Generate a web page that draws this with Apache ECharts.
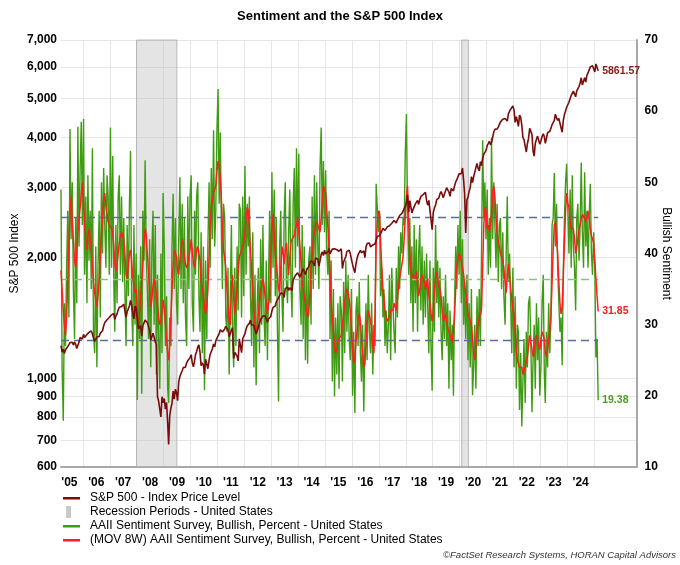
<!DOCTYPE html>
<html>
<head>
<meta charset="utf-8">
<script src="https://cdn.jsdelivr.net/npm/echarts@6/dist/echarts.min.js"></script>
<style>
html,body{margin:0;padding:0;background:#fff;}
#chart{width:680px;height:565px;}
</style>
</head>
<body>
<div id="chart"></div>
<script>
// Semi-monthly observations (10th and 25th of each month), Mar 2005 - Feb 2025
const firstMonth = [2005, 2];   // March 2005 (0-based month)
const lastMonth = [2025, 1];    // February 2025

// S&P 500 index level
const sp500 = [
1207,1162, 1181,1152, 1178,1190, 1200,1191, 1227,1234, 1230,1210, 1231,1215, 1187,1199, 1231,1265, 1259,1252,
1287,1264, 1266,1287, 1281,1302, 1295,1312, 1291,1260, 1236,1250, 1267,1260, 1272,1296, 1299,1314, 1350,1377, 1380,1400, 1413,1418,
1423,1440, 1438,1451, 1402,1430, 1448,1480, 1505,1515, 1510,1498, 1531,1518, 1420,1464, 1474,1517, 1565,1520, 1453,1407, 1515,1497,
1410,1330, 1331,1353, 1273,1352, 1360,1397, 1389,1375, 1361,1321, 1245,1257, 1296,1266, 1232,1213, 899,877, 873,800, 899,868,
890,837, 870,773, 683,806, 842,866, 929,887, 939,920, 879,979, 1010,1028, 1044,1063, 1071,1066, 1093,1106, 1104,1126,
1145,1092, 1068,1105, 1146,1166, 1197,1212, 1160,1074, 1092,1076, 1023,1115, 1121,1056, 1110,1148, 1165,1185, 1218,1198, 1240,1257,
1269,1292, 1321,1320, 1304,1314, 1328,1348, 1347,1320, 1270,1268, 1317,1337, 1120,1160, 1154,1136, 1105,1254, 1240,1159, 1255,1265,
1292,1326, 1352,1367, 1371,1397, 1358,1371, 1358,1318, 1290,1313, 1342,1338, 1402,1411, 1430,1441, 1432,1409, 1380,1406, 1418,1426,
1472,1503, 1518,1515, 1552,1551, 1588,1585, 1633,1650, 1626,1592, 1675,1690, 1691,1656, 1683,1692, 1656,1759, 1770,1807, 1802,1834,
1842,1790, 1780,1847, 1878,1857, 1816,1863, 1878,1900, 1950,1960, 1964,1978, 1909,1997, 1995,1982, 1906,1964, 2039,2068, 2026,2088,
2044,2051, 2068,2110, 2044,2061, 2102,2117, 2105,2126, 2094,2102, 2076,2079, 2104,1880, 1952,1931, 2014,2075, 2081,2089, 2047,2061,
1922,1877, 1835,1929, 1989,2037, 2047,2088, 2058,2048, 2080,2001, 2129,2169, 2182,2176, 2128,2146, 2153,2143, 2167,2213, 2259,2264,
2269,2298, 2309,2367, 2372,2341, 2356,2389, 2396,2405, 2432,2439, 2427,2477, 2474,2443, 2488,2497, 2550,2557, 2582,2602, 2652,2683,
2748,2872, 2600,2779, 2786,2588, 2642,2640, 2723,2721, 2782,2718, 2794,2846, 2853,2875, 2877,2915, 2785,2706, 2781,2632, 2637,2351,
2597,2664, 2710,2793, 2783,2818, 2888,2926, 2881,2826, 2886,2913, 2993,3003, 2919,2847, 2979,2984, 2938,3023, 3093,3133, 3132,3240,
3265,3243, 3352,3128, 2882,2305, 2790,2837, 2930,2991, 3190,3083, 3185,3215, 3360,3443, 3340,3298, 3477,3400, 3545,3630, 3668,3703,
3810,3855, 3911,3829, 3875,3910, 4128,4187, 4188,4197, 4247,4281, 4370,4412, 4436,4470, 4458,4455, 4391,4575, 4646,4701, 4712,4791,
4670,4356, 4504,4385, 4260,4543, 4488,4287, 4001,3941, 3901,3675, 3854,3967, 4210,4199, 4067,3693, 3588,3859, 3956,4026, 3934,3845,
3919,4016, 4081,4012, 3861,3971, 4105,4071, 4138,4151, 4299,4348, 4409,4567, 4464,4406, 4457,4337, 4327,4117, 4415,4559, 4604,4754,
4783,4894, 4997,5088, 5117,5218, 5160,5048, 5222,5268, 5361,5469, 5633,5399, 5344,5634, 5495,5722, 5792,5809, 5996,5987, 6034,6040,
5827,6101, 6069,5861.57
];

// AAII Sentiment Survey, Bullish, %
const bullish = [
49,24, 16.5,33, 27,38, 46,31, 57.5,42, 50,35, 28,45, 33,57.8, 41,52, 58.5,44,
58.9,37, 48,33, 51,39, 46,35, 54.8,29, 26,41, 24,38, 46,31, 50,40, 52,44, 38,51, 48,37,
57.7,38, 53.7,36, 29,44, 33,48, 51,37, 48,36, 45,35, 27,44, 34,47, 54.4,33, 27,44, 30,40,
19.4,37, 28,41, 20.3,46, 39,53.1, 40,35, 28,42, 24,40, 46,30, 44,23, 37,28, 21,40, 26,48.5,
41,27, 34,21, 19,31, 27,41, 48.4,35, 45,33, 30,42, 50.7,35, 47,33, 45,31, 27,48, 35,48,
51,33, 29,46, 37,48, 50,34, 29,43, 26,41, 20.8,39, 28,41, 50,38, 52,42, 57.3,41, 46,57,
63.1,47, 57,42, 35,47, 45,31, 29,38, 23,34, 44,29, 24,38, 27,41, 32,47, 46,31, 48,34,
52.3,37, 47,41, 48,34, 27,43, 24,37, 21.5,33, 38,26, 42,30, 44,31, 27,39, 25,36, 46,33,
51.4,38, 49,34, 45,30, 19.2,41, 46,34, 29,45, 50,36, 33,43, 49,36, 31,47, 52,38, 54.8,41,
54,35, 30,44, 28,41, 25,38, 24.5,39, 41,30, 48,35, 51,37, 50,41, 35,52, 57.7,44, 53,43,
51.7,40, 37,46, 28,39, 22,35, 19.9,31, 23,33, 21,34, 32,22, 36,26, 39,29, 37,28, 25,35,
20,29, 17.6,32, 34,27, 36,26, 22,30, 17.8,28, 33,25, 37,29, 26,33, 23,30, 27,49.8, 46.5,43,
46,34, 38,31, 35,27, 32,26, 30,37, 25,38, 33,29, 26,38, 31,41, 35,43, 40,45, 44,54,
59.6,46, 37,45, 33,41, 29,44, 33,42, 29,40, 44,32, 41,30, 39,31, 40,33, 26,39, 27,20.7,
38,29, 44,33, 39,31, 38,29, 25,34, 28,37, 27,33, 21,32, 25,30, 20,33, 41,35, 44,37,
46,33, 42,30, 36,28, 37,25, 33,24, 35,20.1, 24,30, 21,34, 27,35, 27,40, 55.9,45, 50,42,
49,37, 45,38, 56.3,42, 50,44, 38,47, 36,44, 45,35, 43,34, 30,40, 48,36, 40,33, 26,38,
24,34, 21,30, 29,18, 26,15.7, 22,28, 19,29, 24,33, 34,28, 17.7,25, 30,21, 33,25, 31,20,
24,33, 37,23, 19,29, 24,33, 26,31, 44,45, 51.3,41, 47,38, 33,29, 31,24.3, 38,45, 50,52.6,
52.8,40, 49,38, 51,41, 38,32, 45,47, 39,44, 52.8,43, 38,51.4, 41,46, 38,45, 49.8,40, 37,43,
38,25.4, 28,19.38
];

// (MOV 8W) AAII Sentiment Survey, Bullish, %
const bullishMA = [
37.6,35, 32,30, 28.5,31, 36,41, 46,48, 44,42, 39,38, 40,43, 45,46.5, 48.5,50,
47,44, 42,40.5, 42.5,43.5, 42,40.5, 38.5,36, 34.5,33.5, 32.5,34, 36.5,39.5, 42.5,45.5, 47.5,48.5, 46.5,45.5, 44.5,44,
44,43.5, 43,41, 38.5,37.5, 38.5,40, 41.5,42.5, 43,42.5, 42,40, 37,36.5, 38.5,40, 40.5,39, 36.5,35.5, 34.5,35,
31,29.5, 31.5,34, 36,38.5, 41.5,43.5, 42.5,40, 37.5,34.5, 32.5,33.5, 35.5,36.5, 35.5,34.5, 32.5,31, 30,30.5, 32,33.5,
32,30, 28,26, 25,27, 31,35, 38.5,40.5, 40.5,39.5, 37.5,37, 39,40.5, 42,41.5, 39.5,38.5, 38,38.5, 39.5,40.5,
42,40.5, 38.5,38, 39,40.5, 41,41, 39,36, 35,34, 32.5,31.5, 32.5,35, 39.5,44, 46.5,47.5, 48.5,48.5, 49.5,51.5,
53,52.5, 50.5,47.5, 43.5,40.5, 39.5,38, 35,32.5, 30.5,30, 35,37, 33.5,31.5, 33,35, 37.5,39.5, 40,40, 41,41.5,
43,45, 46.5,46, 43.5,40.5, 37.5,34.5, 32,30, 29,29.5, 31.5,33.5, 34.5,35.5, 36.5,35.5, 34,33, 31.5,31.5, 34,39,
43.5,45.5, 42.5,40, 38.5,37, 35,34.5, 38,41, 40,38.5, 40.5,41.5, 39,37, 39.5,41.5, 42,42, 42.5,43.5, 44,45,
43,41, 38.5,36, 35,34, 33,32, 31,31.5, 34.5,38, 40,42, 43,44, 44.5,44.5, 43.5,43, 45,47.5, 49.5,49,
48.5,46, 43.5,40.5, 37,33, 31,29, 27,26, 26.5,27.5, 28,28, 28.5,30, 31.5,33, 34.5,35, 34.5,33.5, 32,29.5,
26.5,24.5, 25.5,27.5, 29,31, 31.5,30.5, 28,26, 24,24.5, 27.5,30.5, 32,32, 30.5,29.5, 27,26, 31.5,41, 44.5,46,
45.5,41.5, 38,35, 34,32, 31,30.5, 30.5,31, 32,32, 32,33, 33,32, 33.5,35.5, 36.5,37.5, 38.5,39.5, 42,45,
48,49.5, 44,40, 38,36.5, 37,37, 36.5,37.5, 35.5,34, 35,36.5, 37,37, 36,35, 35.5,36.5, 34,33, 31.5,30.5,
32,35, 36.5,37.5, 36.5,35.5, 35,34, 32,30.5, 30.5,31.5, 30.5,29.5, 29,28.5, 28,27.5, 29,31.5, 35,38.5, 39,40,
39.5,39, 38,37, 35.5,34.5, 33,31.5, 31,31, 30,28, 26,25, 27,29.5, 30,31, 31,32, 38,44, 46.5,46,
43.5,44, 43,43, 45.5,48.5, 49.5,48, 45,43, 41.5,41, 40,39.5, 39,38, 36,34.5, 37,38.5, 37,35, 33.5,32,
31.5,29, 26.5,25, 24.5,24, 24,24, 23,23, 24,25, 25.5,27, 28.5,28.5, 26.5,25.5, 26.5,28, 28.5,28, 27,26.5,
28,29, 28.5,28, 26,25.5, 26.5,28, 29,31, 36,40.5, 44,44.5, 42,40, 36,33, 31.5,32.5, 37,41.5, 46,48.5,
47,46.5, 44.5,43.5, 43.5,43.5, 42,40, 40,42, 43.5,44, 45,45.5, 45.5,45, 44.5,45, 46,45, 43.5,42.5, 42,41.5,
39,36.5, 34,31.85
];

// Reference lines on the sentiment axis: +1 std, average, -1 std
const sentimentBands = [45.05, 36.4, 27.75];
const sentimentBandColors = ['#5A6F92', '#86C57A', '#5A6F92'];

// Recession periods (United States)
const recessions = [['2007-12-31', '2009-06-30'], ['2020-01-31', '2020-04-30']];

// Axis ticks
const spTicks = [600, 700, 800, 900, 1000, 2000, 3000, 4000, 5000, 6000, 7000];
const spRange = [600, 7000];
const bullRange = [10, 70];
const yearLabels = ["'05","'06","'07","'08","'09","'10","'11","'12","'13","'14","'15","'16","'17","'18","'19","'20","'21","'22","'23","'24"];

// ---- build dates (categories) ----
function parseDay(s) { const p = s.split('-'); return new Date(+p[0], +p[1] - 1, +p[2]).getTime(); }
const dates = [];
for (let y = firstMonth[0]; y <= lastMonth[0]; y++) {
  for (let m = 0; m < 12; m++) {
    if (y === firstMonth[0] && m < firstMonth[1]) continue;
    if (y === lastMonth[0] && m > lastMonth[1]) break;
    dates.push(new Date(y, m, 10).getTime(), new Date(y, m, 25).getTime());
  }
}
const n = Math.min(dates.length, sp500.length, bullish.length, bullishMA.length);
const spData = [], bullData = [], maData = [];
for (let i = 0; i < n; i++) {
  spData.push([dates[i], Math.log10(sp500[i])]);
  bullData.push([dates[i], bullish[i]]);
  maData.push([dates[i], bullishMA[i]]);
}
const tStart = dates[0], tEnd = dates[n - 1];
const yearStarts = [], yearMids = [];
for (let i = 0; i < yearLabels.length; i++) {
  yearStarts.push(new Date(2006 + i, 0, 1).getTime());
  yearMids.push(new Date(2005 + i, 6, 2).getTime());
}
const axisMax = new Date(2026, 6, 30).getTime();

const FONT = 'Liberation Sans, Arial, Helvetica, sans-serif';
const LINE_ICON = 'path://M0,5 H17 V7.5 H0 Z M22,0 L22,0.01 M22,12 L22,11.99 M0,0 L0,0.01 M0,12 L0,11.99';
const BAR_ICON = 'path://M3,0 H8 V12 H3 Z M0,0 L0,0.01 M22,0 L22,0.01 M22,12 L22,11.99 M0,12 L0,11.99';

const chart = echarts.init(document.getElementById('chart'), null, {renderer: 'canvas'});
chart.setOption({
  animation: false,
  backgroundColor: '#ffffff',
  textStyle: {fontFamily: FONT},
  title: [
    {text: 'Sentiment and the S&P 500 Index', left: 'center', top: 5,
     textStyle: {fontFamily: FONT, fontSize: 13, fontWeight: 'bold', color: '#000'}},
    {text: '\u00A9FactSet Research Systems, HORAN Capital Advisors', right: -1, bottom: 0,
     textStyle: {fontFamily: FONT, fontSize: 9.5, fontStyle: 'italic', fontWeight: 'normal', color: '#333'}}
  ],
  grid: {left: 61, right: 43.5, top: 40, bottom: 98, containLabel: false, outerBoundsMode: 'none'},
  legend: {
    orient: 'vertical', left: 58, top: 487, itemWidth: 22, itemHeight: 12, itemGap: 2,
    selectedMode: false,
    textStyle: {fontFamily: FONT, fontSize: 12, color: '#000'},
    data: [
      {name: 'S&P 500 - Index Price Level', icon: LINE_ICON},
      {name: 'Recession Periods - United States', icon: BAR_ICON},
      {name: 'AAII Sentiment Survey, Bullish, Percent - United States', icon: LINE_ICON},
      {name: '(MOV 8W) AAII Sentiment Survey, Bullish, Percent - United States', icon: LINE_ICON}
    ]
  },
  xAxis: {
    type: 'value', min: tStart, max: axisMax, scale: true,
    axisLine: {show: true, lineStyle: {color: '#A8A8A8', width: 2}},
    axisTick: {show: false, customValues: yearStarts},
    splitLine: {show: true, lineStyle: {color: '#E6E6E6', width: 1}},
    axisLabel: {
      customValues: yearMids, margin: 10, color: '#000', fontWeight: 'bold', fontSize: 12, fontFamily: FONT,
      formatter: function (v) { const y = new Date(v).getFullYear(); return yearLabels[y - 2005] || ''; }
    }
  },
  yAxis: [
    {
      type: 'value', min: Math.log10(spRange[0]), max: Math.log10(spRange[1]), position: 'left',
      name: 'S&P 500 Index', nameLocation: 'middle', nameGap: 40, nameRotate: 90, nameMoveOverlap: false,
      nameTextStyle: {fontFamily: FONT, fontSize: 12, color: '#000'},
      axisLine: {show: false}, axisTick: {show: false, customValues: spTicks.map(v => Math.log10(v))},
      splitLine: {show: true, lineStyle: {color: '#E6E6E6', width: 1}},
      axisLabel: {
        customValues: spTicks.map(v => Math.log10(v)), margin: 4, color: '#000', fontWeight: 'bold', fontSize: 12, fontFamily: FONT,
        formatter: function (v) { return Math.round(Math.pow(10, v)).toLocaleString('en-US'); }
      }
    },
    {
      type: 'value', min: bullRange[0], max: bullRange[1], interval: 10, position: 'right',
      name: 'Bullish Sentiment', nameLocation: 'middle', nameGap: 24, nameRotate: -90, nameMoveOverlap: false,
      nameTextStyle: {fontFamily: FONT, fontSize: 12, color: '#000'},
      axisLine: {show: true, lineStyle: {color: '#A8A8A8', width: 2}},
      axisTick: {show: false}, splitLine: {show: false},
      axisLabel: {margin: 8, color: '#000', fontWeight: 'bold', fontSize: 12, fontFamily: FONT}
    }
  ],
  series: [
    {
      name: 'Recession Periods - United States', type: 'line', data: [], z: 1,
      color: '#C9C9C9', itemStyle: {color: '#C9C9C9'},
      markArea: {
        silent: true,
        itemStyle: {color: 'rgba(195,195,195,0.45)', borderColor: 'rgba(170,170,170,0.8)', borderWidth: 1},
        data: recessions.map(r => [{xAxis: parseDay(r[0])}, {xAxis: parseDay(r[1])}])
      }
    },
    {
      name: 'AAII Sentiment Survey, Bullish, Percent - United States', type: 'line', yAxisIndex: 1,
      data: bullData, showSymbol: false, symbol: 'none', z: 3, color: '#3F9C12',
      lineStyle: {color: '#3F9C12', width: 1.4},
      endLabel: {show: true, distance: 4, color: '#4E9E1E', fontWeight: 'bold', fontSize: 10.5, fontFamily: FONT,
        formatter: p => p.value[1].toFixed(2)},
      markLine: {
        silent: true, symbol: 'none', label: {show: false}, z: 4,
        data: sentimentBands.map((v, i) => [
          {coord: [tStart, v], lineStyle: {color: sentimentBandColors[i], type: [8, 5], width: 1.3}},
          {coord: [tEnd, v]}
        ])
      }
    },
    {
      name: '(MOV 8W) AAII Sentiment Survey, Bullish, Percent - United States', type: 'line', yAxisIndex: 1,
      data: maData, showSymbol: false, symbol: 'none', z: 5, color: '#FF1E1E',
      lineStyle: {color: '#FF1E1E', width: 1.5},
      endLabel: {show: true, distance: 4, color: '#F01E1E', fontWeight: 'bold', fontSize: 10.5, fontFamily: FONT,
        formatter: p => p.value[1].toFixed(2)}
    },
    {
      name: 'S&P 500 - Index Price Level', type: 'line', yAxisIndex: 0,
      data: spData, showSymbol: false, symbol: 'none', z: 6, color: '#7A0C0C',
      lineStyle: {color: '#7A0C0C', width: 1.6},
      endLabel: {show: true, distance: 4, color: '#8B1A1A', fontWeight: 'bold', fontSize: 10.5, fontFamily: FONT,
        formatter: p => Math.pow(10, p.value[1]).toFixed(2)}
    }
  ]
});
</script>
</body>
</html>
